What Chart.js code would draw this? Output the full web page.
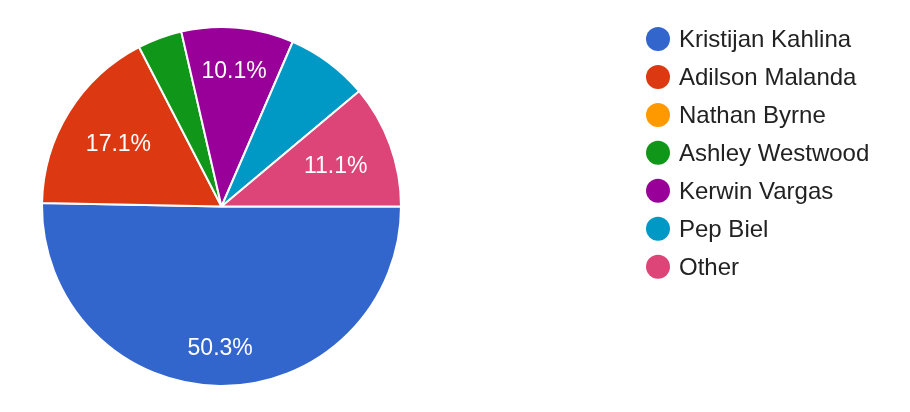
<!DOCTYPE html>
<html><head><meta charset="utf-8">
<script src="https://cdn.jsdelivr.net/npm/chart.js@4/dist/chart.umd.min.js"></script>
<style>html,body{margin:0;padding:0;background:#fff;overflow:hidden;} #wrap{width:910px;height:412px;position:relative;}</style>
</head><body><div id="wrap"><canvas id="c" width="910" height="412"></canvas></div>
<script>
const categories = ['Kristijan Kahlina','Adilson Malanda','Nathan Byrne','Ashley Westwood','Kerwin Vargas','Pep Biel','Other'];
const values = [50.3, 17.1, 0, 4.0, 10.1, 7.4, 11.1];
const colors = ['#3366cc','#dc3912','#ff9900','#109618','#990099','#0099c6','#dd4477'];

const FONT = "'Liberation Sans', Arial, sans-serif";

const sliceLabels = {
  id: 'sliceLabels',
  afterDatasetsDraw(chart) {
    const ctx = chart.ctx;
    const meta = chart.getDatasetMeta(0);
    const data = chart.data.datasets[0].data;
    const total = data.reduce((a, b) => a + b, 0);
    ctx.save();
    ctx.font = '23px ' + FONT;
    ctx.fillStyle = '#ffffff';
    ctx.textAlign = 'center';
    ctx.textBaseline = 'alphabetic';
    meta.data.forEach((arc, i) => {
      const pct = data[i] / total * 100;
      if (pct < 9) return;
      const p = arc.getProps(['startAngle','endAngle','x','y','outerRadius'], true);
      const mid = (p.startAngle + p.endAngle) / 2;
      const dx = Math.cos(mid), dy = Math.sin(mid);
      const text = pct.toFixed(1) + '%';
      const w = ctx.measureText(text).width, h = 23;
      const T = 0.865 * p.outerRadius;
      const b = Math.abs(dx) * w / 2 + Math.abs(dy) * h / 2;
      const c = (w * w + h * h) / 4 - T * T;
      const d = -b + Math.sqrt(b * b - c);
      const cx = p.x + dx * d, cy = p.y + dy * d;
      ctx.fillText(text, cx, cy + 8.2);
    });
    ctx.restore();
  }
};

const sideLegend = {
  id: 'sideLegend',
  afterDraw(chart) {
    const ctx = chart.ctx;
    const labels = chart.data.labels;
    const bg = chart.data.datasets[0].backgroundColor;
    ctx.save();
    ctx.font = '24px ' + FONT;
    ctx.textAlign = 'left';
    ctx.textBaseline = 'alphabetic';
    labels.forEach((lab, i) => {
      const y = 39 + i * 37.95;
      ctx.beginPath();
      ctx.arc(658, y, 12, 0, Math.PI * 2);
      ctx.fillStyle = bg[i];
      ctx.fill();
      ctx.fillStyle = '#222222';
      ctx.fillText(lab, 679, y + 7.9);
    });
    ctx.restore();
  }
};

new Chart(document.getElementById('c'), {
  type: 'pie',
  data: {
    labels: categories,
    datasets: [{
      data: values,
      backgroundColor: colors,
      borderColor: '#ffffff',
      borderWidth: 2
    }]
  },
  options: {
    responsive: false,
    devicePixelRatio: 1,
    animation: false,
    rotation: 90,
    layout: { padding: { left: 41, top: 26, right: 508, bottom: 25 } },
    plugins: {
      legend: { display: false },
      tooltip: { enabled: false }
    }
  },
  plugins: [sliceLabels, sideLegend]
});
</script>
</body></html>
